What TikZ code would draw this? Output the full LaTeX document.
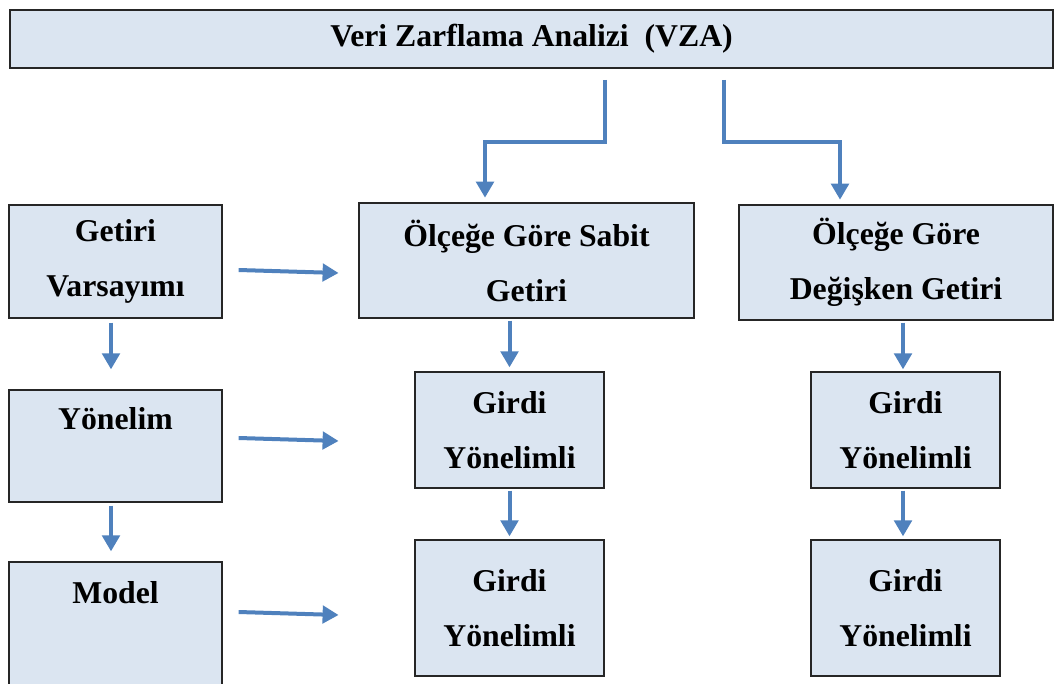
\documentclass[tikz,border=0pt]{standalone}
\usepackage{fontspec}
\setmainfont{Liberation Serif}
\usepackage{tikz}
\usetikzlibrary{arrows.meta,positioning,calc}
\definecolor{boxfill}{HTML}{DBE5F1}
\definecolor{arrblue}{HTML}{4F81BD}

\begin{document}
\begin{tikzpicture}[x=0.75pt,y=-0.75pt]
      \tikzstyle{box}=[rectangle,draw=black!85,line width=0.9pt,fill=boxfill,align=center,inner sep=0pt,
        font=\fontsize{23.8pt}{41.25pt}\selectfont\bfseries]
      \tikzstyle{arr}=[arrblue,line width=3pt,-{Triangle[length=12pt,width=13pt]}]
      \useasboundingbox (0,0) rectangle (1055,684);
      % boxes
      \node[box,minimum width=782.25pt,minimum height=43.5pt] (vza) at (531.5,39) {Veri Zarflama Analizi~ (VZA)};
      \node[box,minimum width=159.75pt,minimum height=84.75pt] (getiri) at (115.5,261.5) {Getiri\\Varsayımı};
      \node[box,minimum width=159.75pt,minimum height=84pt] (yon) at (115.5,446) {Yönelim\\~};
      \node[box,minimum width=159.75pt,minimum height=127.5pt] (model) at (115.5,647) {Model\\~\\~};
      \node[box,minimum width=251.25pt,minimum height=86.25pt] (sabit) at (526.5,260.5) {Ölçeğe Göre Sabit\\Getiri};
      \node[box,minimum width=235.5pt,minimum height=86.25pt] (degisken) at (896,262.5) {Ölçeğe Göre\\Değişken Getiri};
      \node[box,minimum width=141.75pt,minimum height=87pt] (sgirdi1) at (509.5,430) {Girdi\\Yönelimli};
      \node[box,minimum width=141.75pt,minimum height=102pt] (sgirdi2) at (509.5,608) {Girdi\\Yönelimli};
      \node[box,minimum width=141.75pt,minimum height=87pt] (dgirdi1) at (905.5,430) {Girdi\\Yönelimli};
      \node[box,minimum width=141.75pt,minimum height=102pt] (dgirdi2) at (905.5,608) {Girdi\\Yönelimli};
      % split from the top box
      \coordinate (ls) at (605,80);
      \coordinate (rs) at (724,80);
      \draw[arr] (ls) -- (605,142) -| ([yshift=3.5pt]sabit.north -| 485,0);
      \draw[arr] (rs) -- (724,142) -| ([yshift=3.5pt]degisken.north -| 840,0);
      % left column
      \draw[arr] ([yshift=-3pt]getiri.south -| 111,0) -- ([yshift=15pt]yon.north -| 111,0);
      \draw[arr] ([yshift=-2.25pt]yon.south -| 111,0) -- ([yshift=7.5pt]model.north -| 111,0);
      % towards the middle
      \draw[arr] ([xshift=12pt]getiri.east |- 0,270) -- ++(100,3);
      \draw[arr] ([xshift=12pt]yon.east |- 0,438) -- ++(100,3);
      \draw[arr] ([xshift=12pt]model.east |- 0,612) -- ++(100,3);
      % down the columns
      \draw[arr] ([yshift=-1.5pt]sabit.south -| sgirdi1) -- ([yshift=3pt]sgirdi1.north);
      \draw[arr] ([yshift=-1.5pt]sgirdi1.south) -- ([yshift=2.25pt]sgirdi2.north);
      \draw[arr] ([yshift=-1.5pt]degisken.south -| 903,0) -- ([yshift=1.5pt]dgirdi1.north -| 903,0);
      \draw[arr] ([yshift=-1.5pt]dgirdi1.south -| 903,0) -- ([yshift=2.25pt]dgirdi2.north -| 903,0);
    \end{tikzpicture}
\end{document}
